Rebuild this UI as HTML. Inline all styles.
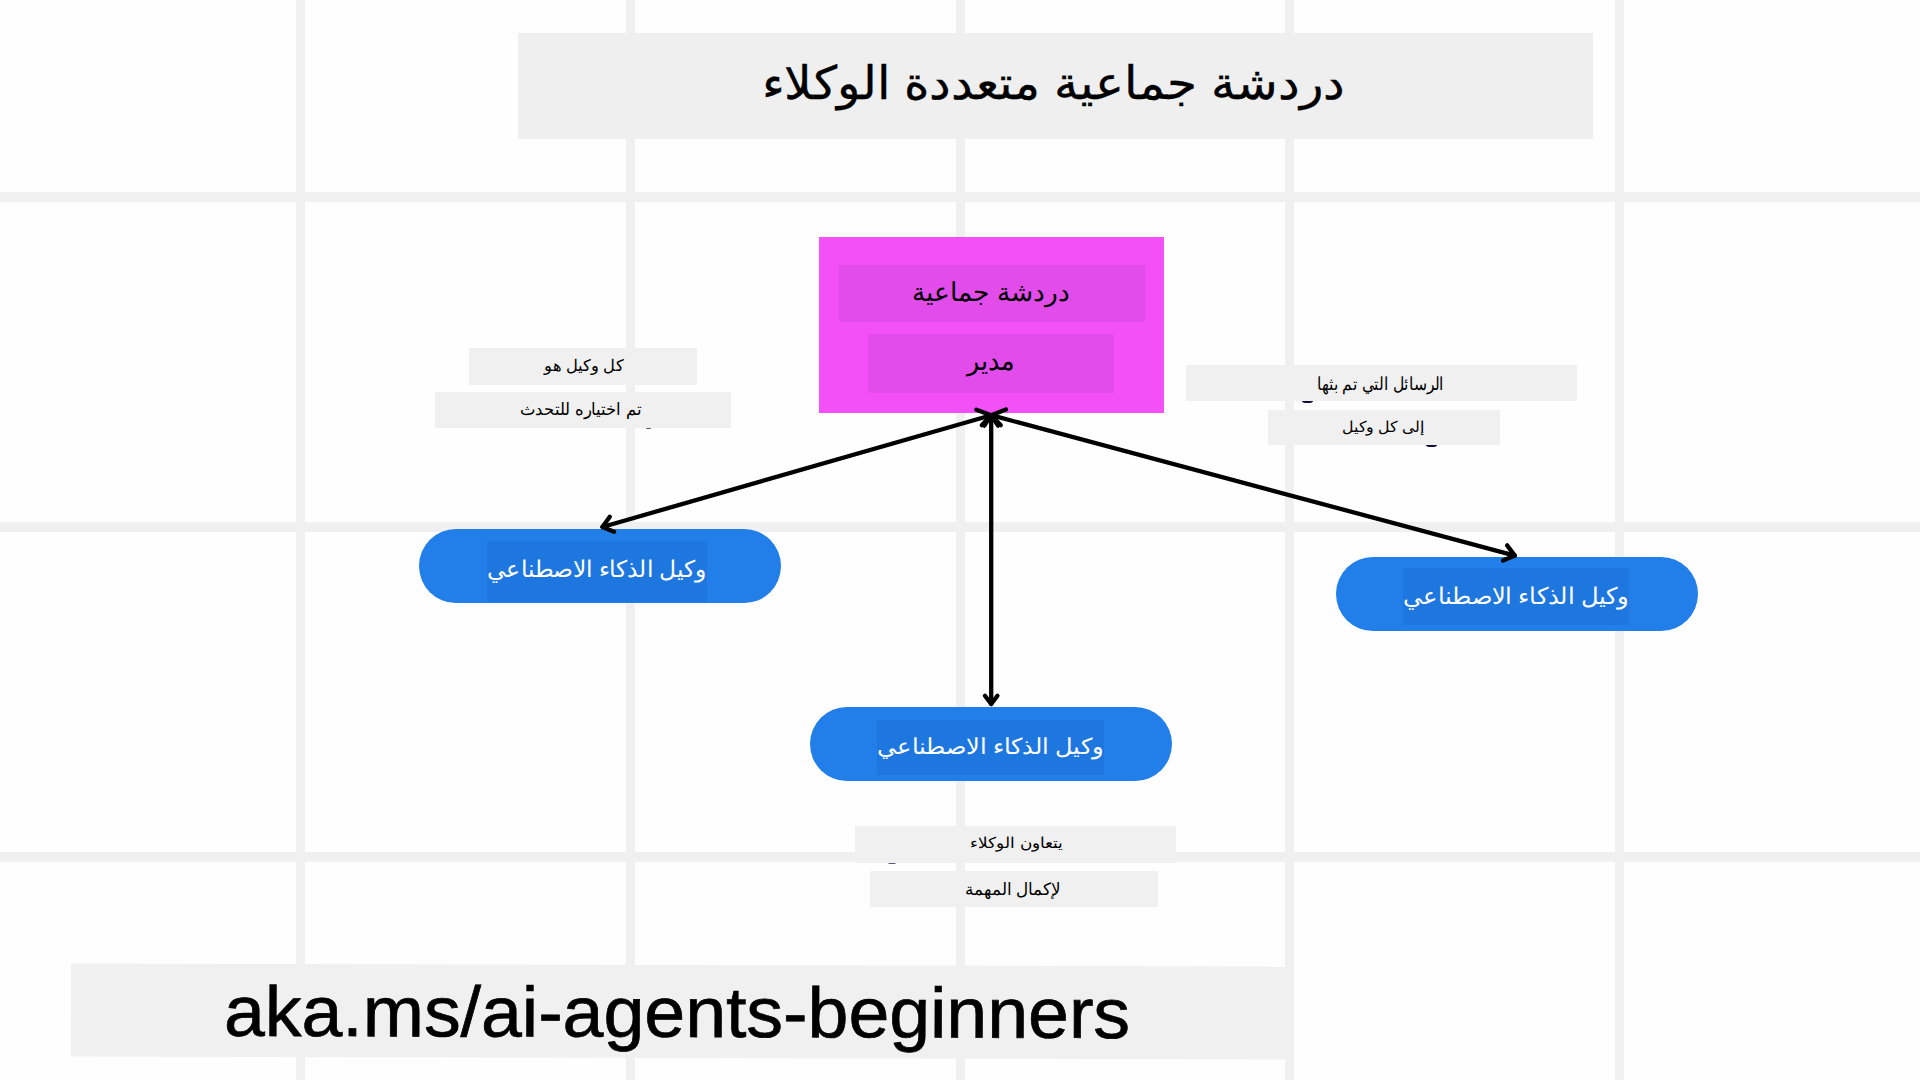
<!DOCTYPE html>
<html lang="ar">
<head>
<meta charset="utf-8">
<style>
html,body{margin:0;padding:0;}
body{width:1920px;height:1080px;position:relative;overflow:hidden;background:#fefefe;font-family:"Liberation Sans",sans-serif;}
.a{position:absolute;}
.gv{position:absolute;top:0;width:9px;height:1080px;background:#f0f0f0;}
.gh{position:absolute;left:0;height:9.8px;width:1920px;background:#f0f0f0;}
.box{position:absolute;background:#efefef;}
.t{position:absolute;white-space:nowrap;line-height:1;color:#000;direction:rtl;transform-origin:0 0;}
.pill{position:absolute;height:74px;border-radius:37px;background:#227ee9;}
.pin{position:absolute;background:#1e77df;}
.w{color:#fff;}
</style>
</head>
<body>
<!-- grid -->
<div class="gv" style="left:296px"></div>
<div class="gv" style="left:625.9px"></div>
<div class="gv" style="left:955.6px"></div>
<div class="gv" style="left:1285px"></div>
<div class="gv" style="left:1615px"></div>
<div class="gh" style="top:192.2px"></div>
<div class="gh" style="top:522.2px"></div>
<div class="gh" style="top:851.9px"></div>

<!-- title -->
<div class="box" style="left:518px;top:33px;width:1075px;height:106px"></div>
<div class="t" id="title" style="left:762.25px;top:60.45px;font-size:52px;transform:scale(0.9366,0.8868);-webkit-text-stroke:0.4px #000">دردشة جماعية متعددة الوكلاء</div>

<!-- manager box -->
<div class="a" style="left:819px;top:237px;width:345px;height:176px;background:#f350f8"></div>
<div class="a" style="left:839px;top:265px;width:306px;height:57px;background:#e14ceb"></div>
<div class="a" style="left:868px;top:334px;width:246px;height:59px;background:#e14ceb"></div>
<div class="t" id="m1" style="left:911.79px;top:279.32px;font-size:26px;transform:scale(1.0052,0.9885)">دردشة جماعية</div>
<div class="t" id="m2" style="left:966.58px;top:347.43px;font-size:26px;transform:scale(0.9793,1.0456)">مدير</div>

<!-- notes left -->
<div class="box" style="left:469px;top:348px;width:228px;height:37px;background:#f0f0f0"></div>
<div class="box" style="left:435px;top:392px;width:296px;height:36px;background:#f0f0f0"></div>
<div class="t" id="n1" style="left:543.96px;top:358.06px;font-size:17px;transform:scale(0.9639,0.9444)">كل وكيل هو</div>
<div class="t" id="n2" style="left:520.03px;top:401.00px;font-size:17px;transform:scale(0.9675,1.0000)">تم اختياره للتحدث</div>

<!-- notes right -->
<div class="box" style="left:1186px;top:365px;width:391px;height:36px;background:#f0f0f0"></div>
<div class="box" style="left:1268px;top:410px;width:232px;height:35px;background:#f0f0f0"></div>
<div class="t" id="n3" style="left:1317.08px;top:374.94px;font-size:17px;transform:scale(0.9191,1.0588)">الرسائل التي تم بثها</div>
<div class="t" id="n4" style="left:1342.07px;top:420.12px;font-size:17px;transform:scale(0.9302,0.8824)">إلى كل وكيل</div>

<!-- notes bottom -->
<div class="box" style="left:855px;top:826px;width:321px;height:37px;background:#f0f0f0"></div>
<div class="box" style="left:870px;top:871px;width:288px;height:36px;background:#f0f0f0"></div>
<div class="t" id="n5" style="left:970.00px;top:836.11px;font-size:17px;transform:scale(1.0000,0.8889)">يتعاون الوكلاء</div>
<div class="t" id="n6" style="left:965.01px;top:881.00px;font-size:17px;transform:scale(0.9895,1.0000)">لإكمال المهمة</div>

<!-- pills -->
<div class="pill" style="left:419px;top:529px;width:362px"></div>
<div class="pin" style="left:487px;top:541px;width:220px;height:61px"></div>
<div class="t w" id="p1" style="left:487.11px;top:558.10px;font-size:26px;transform:scale(0.8852,0.8678)">وكيل الذكاء الاصطناعي</div>

<div class="pill" style="left:1336px;top:557px;width:362px"></div>
<div class="pin" style="left:1403px;top:568px;width:226px;height:57px"></div>
<div class="t w" id="p2" style="left:1403.09px;top:584.86px;font-size:26px;transform:scale(0.9139,0.8682)">وكيل الذكاء الاصطناعي</div>

<div class="pill" style="left:810px;top:707px;width:362px"></div>
<div class="pin" style="left:877px;top:720px;width:227px;height:55px"></div>
<div class="t w" id="p3" style="left:877.08px;top:736.47px;font-size:26px;transform:scale(0.9160,0.8357)">وكيل الذكاء الاصطناعي</div>


<!-- small artifacts -->
<div class="a" style="left:1302px;top:400.8px;width:11px;height:2.2px;background:#140c38;border-radius:0 0 50% 50%/0 0 100% 100%"></div>
<div class="a" style="left:1426px;top:444.8px;width:11px;height:2.2px;background:#140c38;border-radius:0 0 50% 50%/0 0 100% 100%"></div>
<div class="a" style="left:645.8px;top:428px;width:5px;height:1.1px;background:#5a5868;border-radius:1px"></div>
<div class="a" style="left:888px;top:862.9px;width:8px;height:1.6px;background:#5a566e;border-radius:0 0 50% 50%/0 0 100% 100%"></div>

<!-- arrows -->
<svg class="a" style="left:0;top:0" width="1920" height="1080" viewBox="0 0 1920 1080">
<g fill="none" stroke="#000" stroke-width="4.3" stroke-linecap="round" stroke-linejoin="round">
<path d="M991.2 415.2 L602.4 527"/>
<path d="M609.80 516.80 L602.40 527.00 L614.09 531.71"/>
<path d="M981.80 425.30 L991.20 415.20 L976.35 409.81"/>
<path d="M991.2 415.2 L1514.8 555.6"/>
<path d="M1503.02 560.60 L1514.80 555.60 L1507.10 545.38"/>
<path d="M1005.95 409.54 L991.20 415.20 L1000.78 425.13"/>
<path d="M991.2 415.2 L991.2 704.0"/>
<path d="M984.94 695.69 L991.20 704.00 L997.46 695.69"/>
<path d="M998.01 425.68 L991.20 415.20 L984.39 425.68"/>
</g>
</svg>

<!-- url -->
<div class="a" style="left:0;top:0;width:1920px;height:1080px;transform-origin:678px 1011px;transform:rotate(0.14deg)">
<div class="box" style="left:71px;top:964.6px;width:1214px;height:93.7px;background:#f0f0f0"></div>
<div class="t" id="url" style="left:223.85px;top:977.48px;font-size:70px;transform:scale(1.0490,1.0152);direction:ltr;-webkit-text-stroke:0.7px #000">aka.ms/ai-agents-beginners</div>
</div>
</body>
</html>
